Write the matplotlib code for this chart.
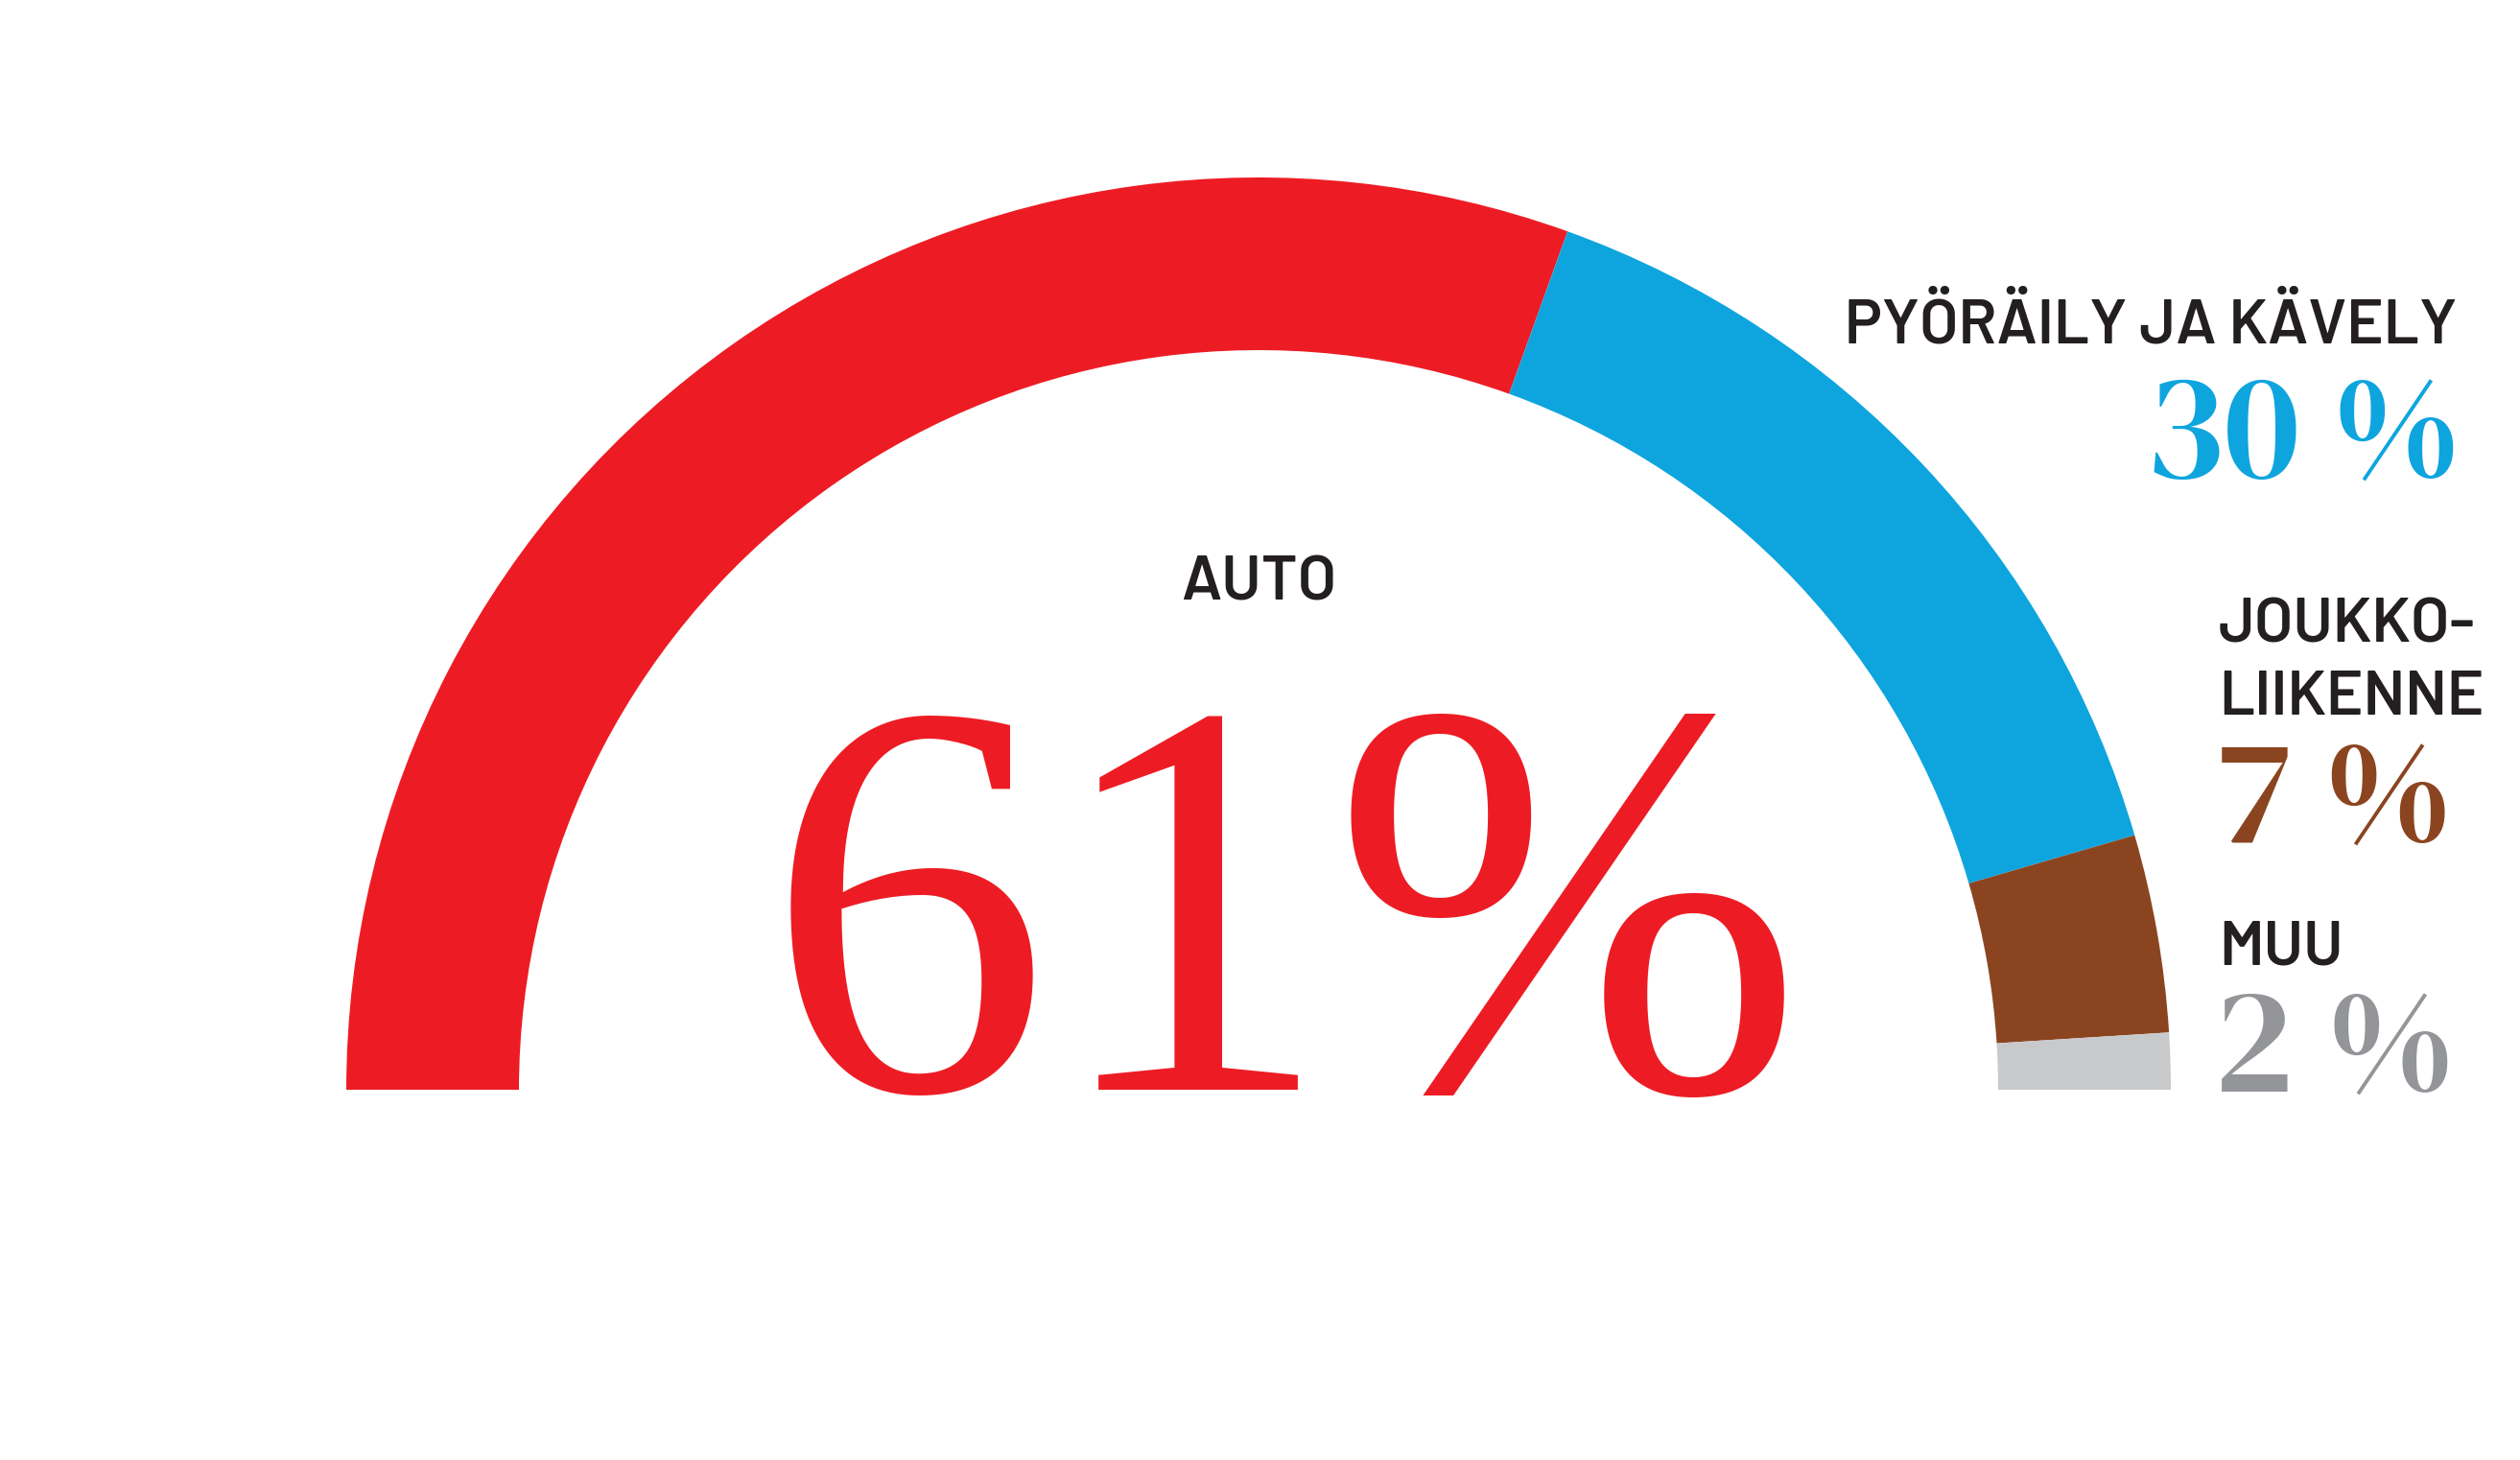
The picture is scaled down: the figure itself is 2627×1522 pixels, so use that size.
import matplotlib
matplotlib.use("Agg")
import matplotlib.pyplot as plt
from matplotlib.patches import Wedge
from matplotlib import font_manager as fm

categories = ["AUTO", "PYÖRÄILY JA KÄVELY", "JOUKKOLIIKENNE", "MUU"]
shares = [61, 30, 7, 2]
arc_colors = ["#ED1C24", "#0EA5DE", "#8A4520", "#C8C9CB"]
value_labels = ["61%", "30 %", "7 %", "2 %"]
text_colors = ["#ED1C24", "#0EA5DE", "#8A4520", "#939598"]


def font(filename, fallback, size):
    for f in fm.fontManager.ttflist:
        if f.fname.split("/")[-1] == filename:
            return fm.FontProperties(fname=f.fname, size=size)
    return fm.FontProperties(family=fallback, size=size)


W, H = 2627, 1522
fig = plt.figure(figsize=(W / 100, H / 100), dpi=100)
ax = fig.add_axes([0, 0, 1, 1])
ax.set_xlim(0, W)
ax.set_ylim(0, H)
ax.set_aspect("equal")
ax.axis("off")

cx, cy = 1312, H - 1136
r_out, r_in = 951, 771

total = sum(shares)
start = 180.0
for s, c in zip(shares, arc_colors):
    span = 180.0 * s / total
    ax.add_patch(Wedge((cx, cy), r_out, start - span, start, width=r_out - r_in,
                       facecolor=c, edgecolor="none"))
    start -= span

lab_fp = font("Barlow-SemiBold.ttf", "DejaVu Sans", 47)
big_fp = font("LiberationSerif-Regular.ttf", "Liberation Serif", 425)
num_fp = font("DMSerifDisplay-Regular.ttf", "Liberation Serif", 112)
ink = "#231F20"

# Auto
ax.text(cx, H - 625, categories[0], ha="center", va="baseline", fontproperties=lab_fp, color=ink)
ax.text(1340, H - 1136, value_labels[0], ha="center", va="baseline",
        fontproperties=big_fp, color=text_colors[0])

# Pyöräily ja kävely
ax.text(2561, H - 357, categories[1], ha="right", va="baseline", fontproperties=lab_fp, color=ink)
ax.text(2566, H - 499, value_labels[1], ha="right", va="baseline", fontproperties=num_fp, color=text_colors[1])

# Joukkoliikenne
ax.text(2313, H - 670, "JOUKKO-", ha="left", va="baseline", fontproperties=lab_fp, color=ink)
ax.text(2313, H - 745, "LIIKENNE", ha="left", va="baseline", fontproperties=lab_fp, color=ink)
ax.text(2312, H - 879, value_labels[2], ha="left", va="baseline", fontproperties=num_fp, color=text_colors[2])

# Muu
ax.text(2313, H - 1005, categories[3], ha="left", va="baseline", fontproperties=lab_fp, color=ink)
ax.text(2308, H - 1139, value_labels[3], ha="left", va="baseline", fontproperties=num_fp, color=text_colors[3])

fig.savefig("out.png", dpi=100, facecolor="white")
